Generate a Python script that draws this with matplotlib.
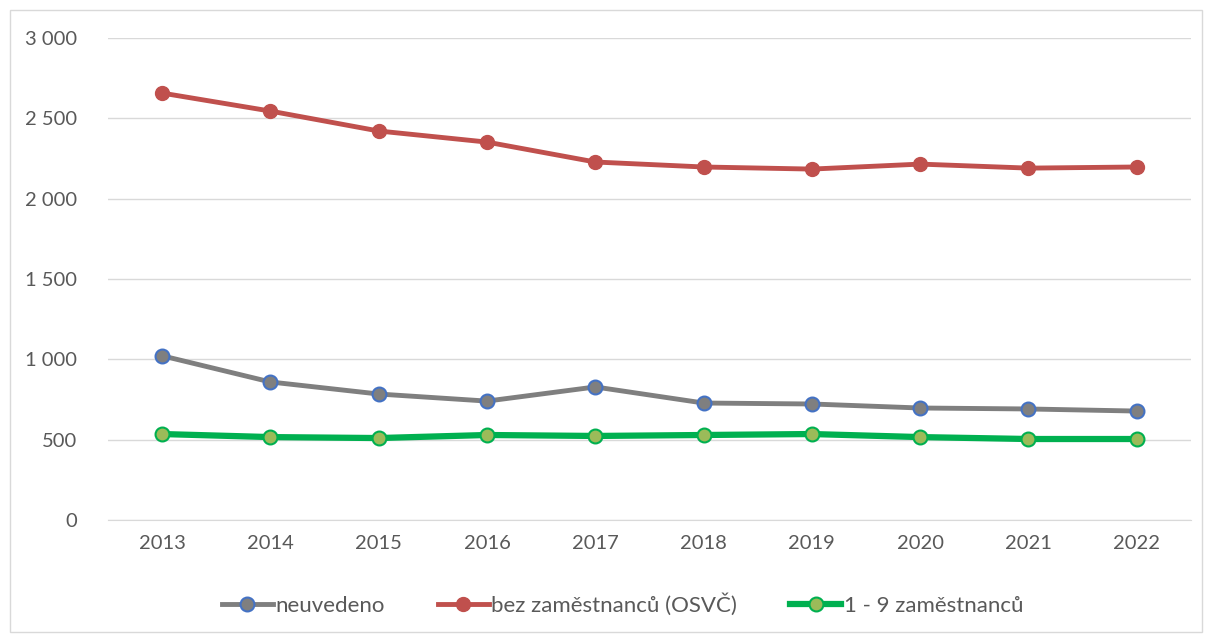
import matplotlib.pyplot as plt
from matplotlib.patches import Rectangle
from matplotlib.ticker import FuncFormatter

years = ["2013", "2014", "2015", "2016", "2017", "2018", "2019", "2020", "2021", "2022"]
neuvedeno = [1022, 859, 784, 740, 828, 728, 722, 697, 691, 678]
bez_zamestnancu = [2657, 2545, 2421, 2352, 2228, 2197, 2184, 2215, 2190, 2197]
zamestnancu_1_9 = [535, 516, 510, 529, 523, 529, 535, 516, 504, 504]

plt.rcParams["font.family"] = ["Lato", "DejaVu Sans"]

fig = plt.figure(figsize=(12.09, 6.36), dpi=100)
ax = fig.add_axes([0.0893, 0.1824, 0.8957, 0.7579])

x = range(len(years))
ax.plot(x, neuvedeno, color="#7f7f7f", lw=3.5, marker="o", ms=10,
        mfc="#7f7f7f", mec="#4472c4", mew=1.5, label="neuvedeno", zorder=3)
ax.plot(x, bez_zamestnancu, color="#c0504d", lw=3.5, marker="o", ms=10,
        mfc="#c0504d", mec="#c0504d", label="bez zaměstnanců (OSVČ)", zorder=3)
ax.plot(x, zamestnancu_1_9, color="#00b050", lw=4.5, marker="o", ms=10,
        mfc="#9bbb59", mec="#00b050", mew=1.5, label="1 - 9 zaměstnanců", zorder=3)

ax.set_xlim(-0.5, len(years) - 0.5)
ax.set_ylim(0, 3000)
ax.set_yticks(range(0, 3001, 500))
ax.yaxis.set_major_formatter(FuncFormatter(lambda v, _: f"{int(v):,}".replace(",", " ")))
ax.set_xticks(list(x))
ax.set_xticklabels(years)
ax.grid(axis="y", color="#d9d9d9", lw=1)
ax.set_axisbelow(True)
for side in ["top", "right", "left"]:
    ax.spines[side].set_visible(False)
ax.spines["bottom"].set_color("#d9d9d9")
ax.tick_params(length=0, labelsize=14.5, colors="#595959")
ax.tick_params(axis="y", pad=22)
ax.tick_params(axis="x", pad=11)

# legend sits centred on the whole figure, not on the plot area
ax.legend(loc="center", bbox_to_anchor=(0.475, -0.175), ncol=3, frameon=False,
          fontsize=16, labelcolor="#595959", handlelength=2.3, handletextpad=0.1,
          columnspacing=2.4)

fig.patches.append(Rectangle((10 / 1209, 4 / 636), 1192 / 1209, 622 / 636,
                             transform=fig.transFigure, fill=False,
                             edgecolor="#d9d9d9", lw=1))

fig.savefig("out.png", dpi=100)
